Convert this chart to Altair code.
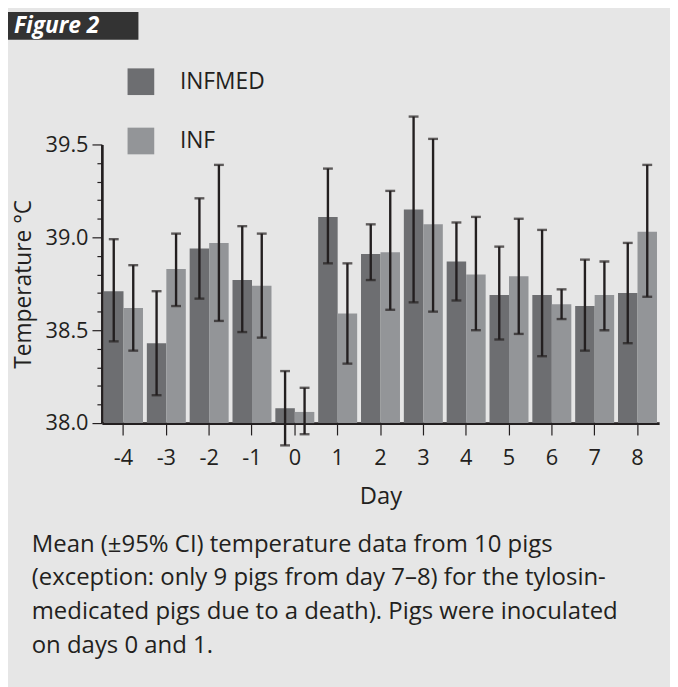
import altair as alt
import pandas as pd

# ---- data ----
days = [-4, -3, -2, -1, 0, 1, 2, 3, 4, 5, 6, 7, 8]
groups = ["INFMED", "INF"]
infmed_mean = [38.71, 38.43, 38.94, 38.77, 38.08, 39.11, 38.91, 39.15, 38.87, 38.69, 38.69, 38.63, 38.70]
infmed_lo = [38.44, 38.15, 38.67, 38.49, 37.88, 38.86, 38.77, 38.65, 38.66, 38.45, 38.36, 38.39, 38.43]
infmed_hi = [38.99, 38.71, 39.21, 39.06, 38.28, 39.37, 39.07, 39.65, 39.08, 38.95, 39.04, 38.88, 38.97]
inf_mean = [38.62, 38.83, 38.97, 38.74, 38.06, 38.59, 38.92, 39.07, 38.80, 38.79, 38.64, 38.69, 39.03]
inf_lo = [38.39, 38.63, 38.55, 38.46, 37.94, 38.32, 38.61, 38.60, 38.50, 38.48, 38.56, 38.50, 38.68]
inf_hi = [38.85, 39.02, 39.39, 39.02, 38.19, 38.86, 39.25, 39.53, 39.11, 39.10, 38.72, 38.87, 39.39]

y_major = [38.0, 38.5, 39.0, 39.5]
y_minor = [38.1, 38.2, 38.3, 38.4, 38.6, 38.7, 38.8, 38.9, 39.1, 39.2, 39.3, 39.4]

figure_label = "Figure 2"
caption_lines = [
    "Mean (\u00b195% CI) temperature data from 10 pigs",
    "(exception: only 9 pigs from day 7\u20138) for the tylosin-",
    "medicated pigs due to a death). Pigs were inoculated",
    "on days 0 and 1.",
]

rows = []
for i, d in enumerate(days):
    rows.append({"day": d, "group": "INFMED", "mean": infmed_mean[i], "lo": infmed_lo[i], "hi": infmed_hi[i]})
    rows.append({"day": d, "group": "INF", "mean": inf_mean[i], "lo": inf_lo[i], "hi": inf_hi[i]})
df = pd.DataFrame(rows)

FONT = "Open Sans"
INK = "#231f20"
BG = "#e6e6e6"

x_axis = alt.Axis(title="Day", labelAngle=0, tickSize=12, tickWidth=1.2, domainWidth=2.7,
                  labelPadding=13, labelFontSize=22, titleFontSize=24, titleFontWeight="normal",
                  titleBaseline="alphabetic", titleY=81)
x_scale = alt.Scale(paddingInner=0.09, paddingOuter=0.05)
x_enc = alt.X("day:O", sort=days, scale=x_scale, axis=x_axis)
xo_enc = alt.XOffset("group:N", sort=groups, scale=alt.Scale(domain=groups, paddingInner=0, paddingOuter=0))
y_scale = alt.Scale(domain=[38.0, 39.5], zero=False, nice=False)

major_axis = alt.Axis(values=y_major, format=".1f", tickSize=10, tickWidth=1.2, domainWidth=2.7,
                      labelPadding=4, labelFontSize=22, title="Temperature \u00b0C", titleFontSize=23,
                      titleFontWeight="normal", titleAngle=270, titleX=-72, titleY=141,
                      titleBaseline="alphabetic", titleAlign="center", orient="left", grid=False)
minor_axis = alt.Axis(values=y_minor, tickSize=5, tickWidth=1.2, labels=False, domain=False,
                      title=None, orient="left", grid=False)

base = alt.Chart(df)

bars = base.mark_bar().encode(
    x=x_enc,
    xOffset=xo_enc,
    y=alt.Y("mean:Q", scale=y_scale, axis=major_axis),
    y2=alt.datum(38.0),
    color=alt.Color("group:N", sort=groups,
                    scale=alt.Scale(domain=groups, range=["#6d6e71", "#939598"]),
                    legend=alt.Legend(orient="none", legendX=26, legendY=-77, title=None,
                                      symbolType="square", symbolSize=729, symbolStrokeWidth=0,
                                      symbolOpacity=1, labelFontSize=23, labelOffset=26,
                                      rowPadding=33, padding=0, labelColor=INK, labelFont=FONT)),
)

rules = base.mark_rule(color=INK, strokeWidth=2.4).encode(
    x=x_enc,
    xOffset=xo_enc,
    y=alt.Y("lo:Q", scale=y_scale, axis=minor_axis),
    y2="hi:Q",
)

caps_hi = base.mark_tick(color=INK, thickness=2.4, size=10).encode(
    x=x_enc, xOffset=xo_enc, y=alt.Y("hi:Q", scale=y_scale, axis=None))
caps_lo = base.mark_tick(color=INK, thickness=2.4, size=10).encode(
    x=x_enc, xOffset=xo_enc, y=alt.Y("lo:Q", scale=y_scale, axis=None))

one = alt.Data(values=[{"k": 1}])
tab = alt.Chart(one).mark_rect(color="#333333").encode(
    x=alt.value(-95), x2=alt.value(37), y=alt.value(-134), y2=alt.value(-106))
tab_text = alt.Chart(one).mark_text(align="left", baseline="alphabetic", font=FONT, fontSize=23,
                                    fontWeight="bold", fontStyle="italic", color="white").encode(
    x=alt.value(-89), y=alt.value(-113), text=alt.value(figure_label))

caption_layers = []
for i, line in enumerate(caption_lines):
    caption_layers.append(
        alt.Chart(one).mark_text(align="left", baseline="alphabetic", font=FONT, fontSize=24.2,
                                 color=INK).encode(
            x=alt.value(-71), y=alt.value(412 + i * 34.3), text=alt.value(line)))

chart = alt.layer(tab, tab_text, bars, rules, caps_hi, caps_lo, *caption_layers).resolve_scale(
    y="shared").resolve_axis(y="independent").properties(
    width=564, height=282,
    autosize=alt.AutoSizeParams(type="none"),
    padding={"left": 95, "top": 134, "right": 11, "bottom": 263},
    background=BG,
).configure_view(stroke=None).configure_axis(
    labelFont=FONT, titleFont=FONT, labelColor=INK, titleColor=INK,
    domainColor=INK, tickColor=INK, grid=False,
)

chart.save("out.html", embed_options={"renderer": "svg", "actions": False})
